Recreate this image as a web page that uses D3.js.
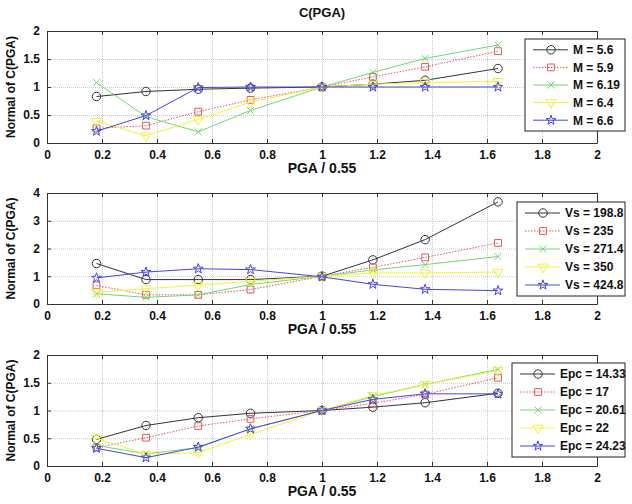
<!DOCTYPE html>
<html>
<head>
<meta charset="utf-8">
<script src="https://cdn.jsdelivr.net/npm/d3@7"></script>
<style>
  html, body { margin: 0; padding: 0; background: #fff; }
  svg text { font-family: "Liberation Sans", Arial, Helvetica, sans-serif; font-weight: bold; fill: #111; }
</style>
</head>
<body>
<svg id="fig" width="632" height="504"></svg>
<script>
// ---- data ----
const pgaRatio = [0.18, 0.36, 0.55, 0.74, 1.0, 1.185, 1.375, 1.64];

const xTicks = [0, 0.2, 0.4, 0.6, 0.8, 1, 1.2, 1.4, 1.6, 1.8, 2];
const yTicksA = [0, 0.5, 1, 1.5, 2];
const yTicksB = [0, 1, 2, 3, 4];

const magLabels = ["M = 5.6", "M = 5.9", "M = 6.19", "M = 6.4", "M = 6.6"];
const magM56  = [0.83, 0.92, 0.96, 0.98, 1.0, 1.05, 1.12, 1.33];
const magM59  = [0.26, 0.31, 0.56, 0.77, 1.0, 1.18, 1.36, 1.64];
const magM619 = [1.08, 0.47, 0.20, 0.58, 1.0, 1.26, 1.51, 1.75];
const magM64  = [0.39, 0.13, 0.42, 0.73, 1.0, 1.05, 1.08, 1.10];
const magM66  = [0.21, 0.49, 0.99, 1.0, 1.0, 1.0, 1.0, 1.0];

const vsLabels = ["Vs = 198.8", "Vs = 235", "Vs = 271.4", "Vs = 350", "Vs = 424.8"];
const vs1988 = [1.46, 0.88, 0.88, 0.88, 1.0, 1.59, 2.32, 3.68];
const vs235  = [0.67, 0.33, 0.33, 0.52, 1.0, 1.32, 1.68, 2.20];
const vs2714 = [0.37, 0.24, 0.33, 0.70, 1.0, 1.23, 1.42, 1.71];
const vs350  = [0.42, 0.55, 0.68, 0.82, 1.0, 1.12, 1.12, 1.15];
const vs4248 = [0.94, 1.15, 1.27, 1.24, 0.98, 0.71, 0.53, 0.48];

const epcLabels = ["Epc = 14.33", "Epc = 17", "Epc = 20.61", "Epc = 22", "Epc = 24.23"];
const epc1433 = [0.48, 0.73, 0.87, 0.95, 1.0, 1.06, 1.14, 1.31];
const epc17   = [0.33, 0.51, 0.72, 0.85, 1.0, 1.13, 1.29, 1.59];
const epc2061 = [0.37, 0.22, 0.33, 0.67, 1.0, 1.25, 1.47, 1.74];
const epc22   = [0.50, 0.21, 0.24, 0.57, 1.0, 1.27, 1.47, 1.72];
const epc2423 = [0.32, 0.15, 0.34, 0.67, 1.0, 1.20, 1.30, 1.30];

// ---- styling of the five series (same order in every panel) ----
const seriesStyle = [
  { color: "#333333", dash: null,  marker: "circle" },
  { color: "#e25a5a", dash: "1.5,1.5", marker: "square" },
  { color: "#72d872", dash: null,  marker: "x" },
  { color: "#f2f23a", dash: null,  marker: "tridown" },
  { color: "#4646dc", dash: null,  marker: "star" }
];

const panels = [
  { top: 31,  bottom: 143, yMax: 2, yTicks: yTicksA, labels: magLabels,
    series: [magM56, magM59, magM619, magM64, magM66],
    legend: { left: 525, top: 39, bottom: 131 } },
  { top: 193, bottom: 304, yMax: 4, yTicks: yTicksB, labels: vsLabels,
    series: [vs1988, vs235, vs2714, vs350, vs4248],
    legend: { left: 517, top: 202, bottom: 296 } },
  { top: 355, bottom: 466, yMax: 2, yTicks: yTicksA, labels: epcLabels,
    series: [epc1433, epc17, epc2061, epc22, epc2423],
    legend: { left: 512, top: 363, bottom: 457 } }
];

const plotLeft = 47, plotRight = 597, legendRight = 625;
const svg = d3.select("#fig");

function markerPath(kind) {
  switch (kind) {
    case "circle":  return d3.symbol(d3.symbolCircle, 56)();
    case "square":  return d3.symbol(d3.symbolSquare, 46)();
    case "x":       return d3.symbol(d3.symbolTimes || d3.symbolX, 34)();
    case "tridown": return d3.symbol(d3.symbolTriangle, 44)();
    case "star":    return d3.symbol(d3.symbolStar, 30)();
  }
}

function drawMarker(g, kind, color, x, y) {
  g.append("path")
    .attr("d", markerPath(kind))
    .attr("transform", `translate(${x},${y})` + (kind === "tridown" ? " rotate(180)" : ""))
    .attr("fill", "none")
    .attr("stroke", color)
    .attr("stroke-width", 1);
}

const xScale = d3.scaleLinear().domain([0, 2]).range([plotLeft, plotRight]);

// figure title
svg.append("text")
  .attr("x", 322).attr("y", 17)
  .attr("text-anchor", "middle")
  .style("font-size", "13px")
  .text("C(PGA)");

panels.forEach(p => {
  const yScale = d3.scaleLinear().domain([0, p.yMax]).range([p.bottom, p.top]);
  const h = p.bottom - p.top;
  const g = svg.append("g");

  // grid
  g.append("g")
    .attr("transform", `translate(0,${p.bottom})`)
    .call(d3.axisBottom(xScale).tickValues(xTicks).tickSize(-h).tickFormat(""))
    .call(s => s.select(".domain").remove())
    .call(s => s.selectAll("line").attr("stroke", "#c8c8c8").attr("stroke-dasharray", "1,1"));
  g.append("g")
    .attr("transform", `translate(${plotLeft},0)`)
    .call(d3.axisLeft(yScale).tickValues(p.yTicks).tickSize(-(plotRight - plotLeft)).tickFormat(""))
    .call(s => s.select(".domain").remove())
    .call(s => s.selectAll("line").attr("stroke", "#c8c8c8").attr("stroke-dasharray", "1,1"));

  // axes with inward ticks on all four sides
  const bottomAxis = g.append("g")
    .attr("transform", `translate(0,${p.bottom})`)
    .call(d3.axisBottom(xScale).tickValues(xTicks).tickSizeInner(-4).tickSizeOuter(0).tickPadding(7)
      .tickFormat(d => String(d)));
  const leftAxis = g.append("g")
    .attr("transform", `translate(${plotLeft},0)`)
    .call(d3.axisLeft(yScale).tickValues(p.yTicks).tickSizeInner(-4).tickSizeOuter(0).tickPadding(7)
      .tickFormat(d => String(d)));
  g.append("g")
    .attr("transform", `translate(0,${p.top})`)
    .call(d3.axisTop(xScale).tickValues(xTicks).tickSizeInner(-4).tickSizeOuter(0).tickFormat(""));
  g.append("g")
    .attr("transform", `translate(${plotRight},0)`)
    .call(d3.axisRight(yScale).tickValues(p.yTicks).tickSizeInner(-4).tickSizeOuter(0).tickFormat(""));
  g.selectAll(".domain").attr("stroke", "#333");
  g.selectAll(".tick line").filter(function () { return !this.getAttribute("stroke-dasharray"); })
    .attr("stroke", "#333");
  [bottomAxis, leftAxis].forEach(a => a.selectAll("text")
    .style("font-size", "12px").style("font-family", "'Liberation Sans', Arial, sans-serif")
    .style("font-weight", "bold").attr("fill", "#111"));

  // axis titles
  g.append("text")
    .attr("x", (plotLeft + plotRight) / 2).attr("y", p.bottom + 30)
    .attr("text-anchor", "middle")
    .style("font-size", "14px")
    .text("PGA / 0.55");
  g.append("text")
    .attr("transform", `translate(15,${(p.top + p.bottom) / 2}) rotate(-90)`)
    .attr("text-anchor", "middle")
    .style("font-size", "12px")
    .text("Normal of C(PGA)");

  // series
  const line = d3.line().x((d, i) => xScale(pgaRatio[i])).y(d => yScale(d));
  p.series.forEach((vals, k) => {
    const st = seriesStyle[k];
    g.append("path")
      .attr("d", line(vals))
      .attr("fill", "none")
      .attr("stroke", st.color)
      .attr("stroke-width", 1)
      .attr("stroke-dasharray", st.dash);
    vals.forEach((v, i) => drawMarker(g, st.marker, st.color, xScale(pgaRatio[i]), yScale(v)));
  });

  // legend
  const L = p.legend;
  const lg = g.append("g");
  lg.append("rect")
    .attr("x", L.left).attr("y", L.top)
    .attr("width", legendRight - L.left).attr("height", L.bottom - L.top)
    .attr("fill", "#fff").attr("stroke", "#222").attr("stroke-width", 1);
  const step = (L.bottom - L.top - 4) / p.labels.length;
  p.labels.forEach((lab, k) => {
    const st = seriesStyle[k];
    const cy = L.top + 2 + step * (k + 0.5);
    lg.append("line")
      .attr("x1", L.left + 8).attr("x2", L.left + 43)
      .attr("y1", cy).attr("y2", cy)
      .attr("stroke", st.color).attr("stroke-width", 1)
      .attr("stroke-dasharray", st.dash);
    drawMarker(lg, st.marker, st.color, L.left + 26, cy);
    lg.append("text")
      .attr("x", L.left + 48).attr("y", cy)
      .attr("dy", "0.36em")
      .style("font-size", "12px")
      .text(lab);
  });
});
</script>
</body>
</html>
